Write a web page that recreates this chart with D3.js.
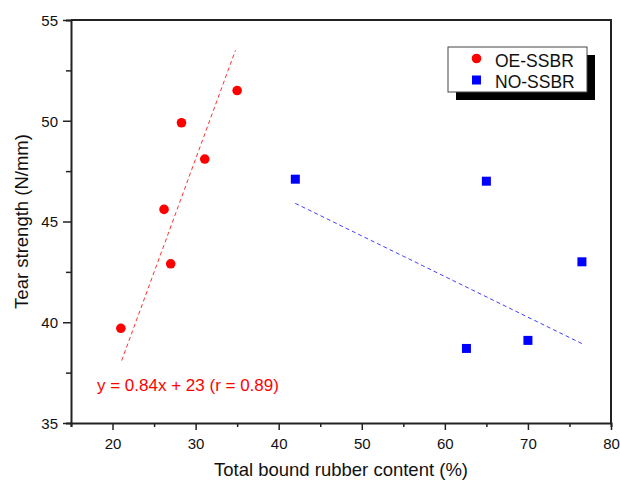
<!DOCTYPE html>
<html>
<head>
<meta charset="utf-8">
<script src="https://cdn.jsdelivr.net/npm/d3@7"></script>
<style>
  body { margin: 0; background: #fff; }
  svg { font-family: "Liberation Sans", Arial, sans-serif; }
</style>
</head>
<body>
<svg id="chart" width="620" height="482"></svg>
<script>
// data
let oe_x = [21.0, 27.0, 26.2, 28.3, 31.1, 35.0];
let oe_y = [39.7, 42.9, 45.6, 49.9, 48.1, 51.5];
let no_x = [42.0, 65.0, 62.6, 70.0, 76.5];
let no_y = [47.1, 47.0, 38.7, 39.1, 43.0];
// fitted lines (end points as drawn)
let oe_fit = [[21.1, 38.1], [34.8, 53.5]];
let no_fit = [[42.0, 45.9], [76.7, 38.9]];
let x_ticks = [20, 30, 40, 50, 60, 70, 80];
let y_ticks = [35, 40, 45, 50, 55];
let series_names = ["OE-SSBR", "NO-SSBR"];
let fit_label = "y = 0.84x + 23 (r = 0.89)";

let margin = { left: 71, right: 9, top: 20, bottom: 59 };
let width = 620, height = 482;
let svg = d3.select("#chart");

let x = d3.scaleLinear().domain([15, 80]).range([margin.left, width - margin.right]);
let y = d3.scaleLinear().domain([35, 55]).range([height - margin.bottom, margin.top]);

// x axis: major + minor ticks, outward
let xAxis = svg.append("g")
  .attr("transform", "translate(0," + y(35) + ")");
xAxis.call(d3.axisBottom(x).tickValues(d3.range(15, 81, 5)).tickSize(4).tickFormat(""));
xAxis.call(g => g.selectAll(".tick").filter(d => d % 10 == 0).select("line").attr("y2", 7));
xAxis.selectAll(".tick").filter(d => d % 10 == 0).append("text")
  .attr("y", 26).attr("fill", "#111").attr("text-anchor", "middle")
  .style("font-size", "15px").text(d => d);

// y axis
let yAxis = svg.append("g")
  .attr("transform", "translate(" + x(15) + ",0)");
yAxis.call(d3.axisLeft(y).tickValues(d3.range(35, 56, 2.5)).tickSize(5).tickFormat(""));
yAxis.call(g => g.selectAll(".tick").filter(d => d % 5 == 0).select("line").attr("x2", -8));
yAxis.selectAll(".tick").filter(d => d % 5 == 0).append("text")
  .attr("x", -13).attr("dy", "0.36em").attr("fill", "#111").attr("text-anchor", "end")
  .style("font-size", "15px").text(d => d);

svg.selectAll(".domain").attr("stroke", "#222").attr("stroke-width", 2);
svg.selectAll(".tick line").attr("stroke", "#222").attr("stroke-width", 1.5);

// top and right frame
svg.append("path")
  .attr("d", "M" + x(15) + "," + y(55) + "H" + x(80) + "V" + y(35))
  .attr("fill", "none").attr("stroke", "#222").attr("stroke-width", 2);

// axis titles
svg.append("text")
  .attr("x", (x(15) + x(80)) / 2).attr("y", 476)
  .attr("text-anchor", "middle").style("font-size", "18.5px").attr("fill", "#111")
  .text("Total bound rubber content (%)");
svg.append("text")
  .attr("transform", "translate(28," + (y(35) + y(55)) / 2 + ") rotate(-90)")
  .attr("text-anchor", "middle").style("font-size", "18.5px").attr("fill", "#111")
  .text("Tear strength (N/mm)");

// fit lines
let line = d3.line().x(d => x(d[0])).y(d => y(d[1]));
svg.append("path").datum(oe_fit).attr("d", line)
  .attr("fill", "none").attr("stroke", "#ff3030").attr("stroke-width", 1)
  .attr("stroke-dasharray", "4,3");
svg.append("path").datum(no_fit).attr("d", line)
  .attr("fill", "none").attr("stroke", "#4040ff").attr("stroke-width", 1)
  .attr("stroke-dasharray", "4,3");

// points
svg.selectAll(".oe").data(oe_x).enter().append("circle")
  .attr("class", "oe")
  .attr("cx", d => x(d)).attr("cy", (d, i) => y(oe_y[i]))
  .attr("r", 4.8).attr("fill", "#ff0000");
svg.selectAll(".no").data(no_x).enter().append("rect")
  .attr("class", "no")
  .attr("x", d => x(d) - 4.5).attr("y", (d, i) => y(no_y[i]) - 4.5)
  .attr("width", 9).attr("height", 9).attr("fill", "#0000ff");

// equation
svg.append("text")
  .attr("x", 97).attr("y", 391)
  .style("font-size", "17px").attr("fill", "#ff0000")
  .text(fit_label);

// legend with drop shadow
let lg = svg.append("g").attr("transform", "translate(448,47)");
lg.append("rect").attr("x", 8).attr("y", 8).attr("width", 139).attr("height", 45).attr("fill", "#000");
lg.append("rect").attr("x", 0).attr("y", 0).attr("width", 139).attr("height", 45)
  .attr("fill", "#fff").attr("stroke", "#444").attr("stroke-width", 1);
lg.append("circle").attr("cx", 28.5).attr("cy", 11.5).attr("r", 4.8).attr("fill", "#ff0000");
lg.append("rect").attr("x", 24).attr("y", 28.5).attr("width", 9).attr("height", 9).attr("fill", "#0000ff");
lg.selectAll(".lt").data(series_names).enter().append("text")
  .attr("class", "lt")
  .attr("x", 47).attr("y", (d, i) => 19.5 + i * 21.5)
  .style("font-size", "17.5px").attr("fill", "#111")
  .text(d => d);
</script>
</body>
</html>
